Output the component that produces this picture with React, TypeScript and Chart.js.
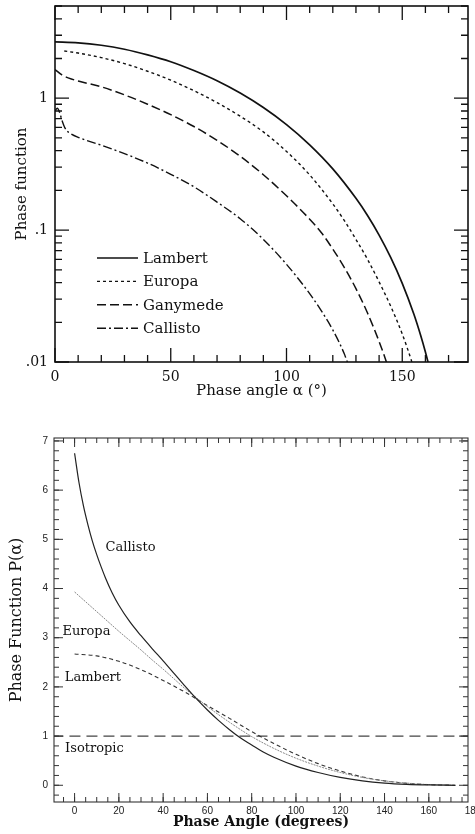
import React, { useEffect, useRef } from 'react';
import { Chart, registerables } from 'chart.js';

Chart.register(...registerables);

// ---------------- Top panel (log scale) ----------------
const TOP_LAMBERT_ANGLE = [0, 10, 20, 30, 40, 50, 60, 70, 80, 90, 100, 110, 120, 130, 135, 140, 145, 150, 155, 158, 160, 162];
const TOP_LAMBERT_PF = [2.67, 2.63, 2.52, 2.35, 2.13, 1.89, 1.62, 1.355, 1.093, 0.849, 0.63, 0.443, 0.291, 0.174, 0.129, 0.0917, 0.0621, 0.0395, 0.0231, 0.0158, 0.0119, 0.0087];

const TOP_EUROPA_ANGLE = [4, 10, 20, 30, 40, 50, 60, 70, 80, 90, 100, 110, 120, 125, 130, 135, 140, 145, 150, 154, 156];
const TOP_EUROPA_PF = [2.28, 2.2, 2.03, 1.83, 1.6, 1.37, 1.14, 0.925, 0.73, 0.555, 0.395, 0.262, 0.158, 0.118, 0.085, 0.06, 0.0405, 0.0265, 0.0163, 0.0102, 0.0078];

const TOP_GANYMEDE_ANGLE = [0, 3, 6, 10, 20, 30, 40, 50, 60, 70, 80, 90, 100, 110, 115, 120, 125, 130, 135, 140, 143.5, 145];
const TOP_GANYMEDE_PF = [1.65, 1.5, 1.42, 1.35, 1.22, 1.06, 0.9, 0.75, 0.61, 0.479, 0.363, 0.263, 0.182, 0.121, 0.096, 0.0718, 0.052, 0.036, 0.0235, 0.0143, 0.0096, 0.0079];

const TOP_CALLISTO_ANGLE = [0, 1, 2, 3, 4, 5, 7, 10, 20, 30, 40, 50, 60, 70, 80, 90, 100, 110, 115, 120, 125, 126, 128];
const TOP_CALLISTO_PF = [0.8, 0.84, 0.78, 0.68, 0.61, 0.57, 0.535, 0.505, 0.44, 0.38, 0.322, 0.265, 0.213, 0.163, 0.122, 0.085, 0.055, 0.033, 0.0245, 0.0175, 0.0115, 0.0103, 0.0085];

const TOP_X_LABELS = [0, 50, 100, 150];
const TOP_Y_LABELS = [0.01, 0.1, 1];
const TOP_Y_LABEL_TEXT = ['.01', '.1', '1'];

// ---------------- Bottom panel (linear scale) ----------------
const BOT_CALLISTO_ANGLE = [0, 2, 4, 6, 8, 10, 12, 14, 17, 20, 25, 30, 35, 40, 45, 50, 55, 60, 65, 70, 75, 80, 85, 90, 100, 110, 120, 130, 140, 150, 160, 172];
const BOT_CALLISTO_PF = [6.75, 6.15, 5.68, 5.3, 4.97, 4.69, 4.44, 4.21, 3.91, 3.66, 3.32, 3.04, 2.78, 2.53, 2.27, 2.01, 1.76, 1.53, 1.32, 1.13, 0.96, 0.82, 0.68, 0.57, 0.39, 0.26, 0.16, 0.09, 0.045, 0.02, 0.007, 0];

const BOT_EUROPA_ANGLE = [0, 5, 10, 15, 20, 25, 30, 35, 40, 45, 50, 55, 60, 70, 80, 90, 100, 110, 120, 130, 140, 150, 160, 172];
const BOT_EUROPA_PF = [3.93, 3.73, 3.53, 3.33, 3.13, 2.94, 2.75, 2.55, 2.36, 2.16, 1.96, 1.78, 1.6, 1.28, 0.99, 0.75, 0.55, 0.39, 0.26, 0.16, 0.09, 0.045, 0.015, 0];

const BOT_LAMBERT_ANGLE = [0, 10, 20, 30, 40, 50, 60, 70, 80, 90, 100, 110, 120, 130, 140, 150, 160, 172];
const BOT_LAMBERT_PF = [2.67, 2.63, 2.52, 2.35, 2.13, 1.89, 1.62, 1.36, 1.09, 0.85, 0.63, 0.44, 0.29, 0.17, 0.09, 0.04, 0.012, 0];

const BOT_ISOTROPIC_ANGLE = [-10, 180];
const BOT_ISOTROPIC_PF = [1, 1];

const BOT_X_LABELS = [0, 20, 40, 60, 80, 100, 120, 140, 160, 180];
const BOT_Y_LABELS = [0, 1, 2, 3, 4, 5, 6, 7];

const BOT_CURVE_NAMES = ['Callisto', 'Europa', 'Lambert', 'Isotropic'];
// label anchor in data coordinates (left edge, vertical centre)
const BOT_NAME_ANGLE = [14, -5.5, -4.4, -4.3];
const BOT_NAME_PF = [4.83, 3.12, 2.18, 0.74];

// ---------------- helpers ----------------
const SERIF = '"DejaVu Serif", serif';
const SANS = '"Liberation Sans", Arial, sans-serif';
const INK = '#111';

function pts(xs: number[], ys: number[]) {
  return xs.map((x, i) => ({ x, y: ys[i] }));
}

function steps(from: number, to: number, step: number) {
  const out: number[] = [];
  for (let v = from; v <= to + 1e-9; v += step) out.push(Math.round(v * 1000) / 1000);
  return out;
}

function logMinors(minExp: number, maxExp: number) {
  const out: number[] = [];
  for (let e = minExp; e <= maxExp; e++) {
    for (let k = 2; k <= 9; k++) out.push(k * Math.pow(10, e));
  }
  return out;
}

type FrameCfg = {
  xMinor: number[]; xMajor: number[]; yMinor: number[]; yMajor: number[];
  minorLen: number; majorLen: number; color: string; lineWidth: number; tickWidth: number;
};

function makeFramePlugin(cfg: FrameCfg) {
  return {
    id: 'frameTicks',
    afterDatasetsDraw(chart: any) {
      const { ctx, chartArea: a, scales } = chart;
      const x = scales.x;
      const y = scales.y;
      ctx.save();
      ctx.strokeStyle = cfg.color;
      ctx.lineWidth = cfg.tickWidth;
      ctx.setLineDash([]);
      ctx.beginPath();
      const hx = (v: number, len: number) => {
        const p = x.getPixelForValue(v);
        if (p < a.left - 0.5 || p > a.right + 0.5) return;
        ctx.moveTo(p, a.bottom); ctx.lineTo(p, a.bottom - len);
        ctx.moveTo(p, a.top); ctx.lineTo(p, a.top + len);
      };
      const vy = (v: number, len: number) => {
        const p = y.getPixelForValue(v);
        if (p < a.top - 0.5 || p > a.bottom + 0.5) return;
        ctx.moveTo(a.left, p); ctx.lineTo(a.left + len, p);
        ctx.moveTo(a.right, p); ctx.lineTo(a.right - len, p);
      };
      cfg.xMinor.forEach((v) => hx(v, cfg.minorLen));
      cfg.xMajor.forEach((v) => hx(v, cfg.majorLen));
      cfg.yMinor.forEach((v) => vy(v, cfg.minorLen));
      cfg.yMajor.forEach((v) => vy(v, cfg.majorLen));
      ctx.stroke();
      ctx.lineWidth = cfg.lineWidth;
      ctx.strokeRect(a.left, a.top, a.right - a.left, a.bottom - a.top);
      ctx.restore();
    },
  };
}

function makeInsetLegend() {
  return {
    id: 'insetLegend',
    afterDatasetsDraw(chart: any) {
      const { ctx, chartArea: a } = chart;
      chart.data.datasets.forEach((ds: any, i: number) => {
        const y = a.bottom - 104 + i * 23.4;
        ctx.save();
        ctx.strokeStyle = ds.borderColor;
        ctx.lineWidth = ds.borderWidth;
        ctx.setLineDash(ds.borderDash || []);
        ctx.beginPath();
        ctx.moveTo(a.left + 42, y);
        ctx.lineTo(a.left + 83, y);
        ctx.stroke();
        ctx.setLineDash([]);
        ctx.fillStyle = INK;
        ctx.font = `15px ${SERIF}`;
        ctx.textBaseline = 'middle';
        ctx.textAlign = 'left';
        ctx.fillText(ds.label, a.left + 88, y + 1);
        ctx.restore();
      });
    },
  };
}

function makeCurveNames() {
  return {
    id: 'curveNames',
    afterDatasetsDraw(chart: any) {
      const { ctx, scales } = chart;
      ctx.save();
      ctx.fillStyle = INK;
      ctx.font = `13px ${SERIF}`;
      ctx.textBaseline = 'middle';
      ctx.textAlign = 'left';
      BOT_CURVE_NAMES.forEach((name, i) => {
        ctx.fillText(name, scales.x.getPixelForValue(BOT_NAME_ANGLE[i]), scales.y.getPixelForValue(BOT_NAME_PF[i]));
      });
      ctx.restore();
    },
  };
}

function lineDs(label: string, xs: number[], ys: number[], color: string, width: number, dash: number[]) {
  return {
    label,
    data: pts(xs, ys),
    borderColor: color,
    borderWidth: width,
    borderDash: dash,
    pointRadius: 0,
    fill: false,
    cubicInterpolationMode: 'monotone' as const,
  };
}

function TopChart() {
  const ref = useRef<HTMLCanvasElement>(null);
  useEffect(() => {
    const chart = new Chart(ref.current!, {
      type: 'line',
      data: {
        datasets: [
          lineDs('Lambert', TOP_LAMBERT_ANGLE, TOP_LAMBERT_PF, '#111', 1.7, []),
          lineDs('Europa', TOP_EUROPA_ANGLE, TOP_EUROPA_PF, '#111', 1.4, [3, 3]),
          lineDs('Ganymede', TOP_GANYMEDE_ANGLE, TOP_GANYMEDE_PF, '#111', 1.5, [9, 4]),
          lineDs('Callisto', TOP_CALLISTO_ANGLE, TOP_CALLISTO_PF, '#111', 1.4, [9, 3, 2, 3]),
        ],
      },
      options: {
        animation: false,
        responsive: false,
        events: [],
        layout: { padding: { top: 6, right: 7, left: 0, bottom: 0 } },
        plugins: { legend: { display: false }, tooltip: { enabled: false } },
        scales: {
          x: {
            type: 'linear',
            min: 0,
            max: 178.4,
            afterBuildTicks: (s: any) => { s.ticks = TOP_X_LABELS.map((v) => ({ value: v })); },
            afterFit: (s: any) => { s.height = 48; s.paddingLeft = 0; s.paddingRight = 0; },
            grid: { display: false, drawTicks: false },
            border: { display: false },
            ticks: { autoSkip: false, maxRotation: 0, padding: 7, color: INK, font: { family: SERIF, size: 14 } },
            title: { display: true, text: 'Phase angle α (°)', color: INK, font: { family: SERIF, size: 15 }, padding: { top: 0, bottom: 10 } },
          },
          y: {
            type: 'logarithmic',
            min: 0.01,
            max: 5,
            afterBuildTicks: (s: any) => { s.ticks = TOP_Y_LABELS.map((v) => ({ value: v })); },
            afterFit: (s: any) => { s.width = 55; s.paddingTop = 0; s.paddingBottom = 0; },
            grid: { display: false, drawTicks: false },
            border: { display: false },
            ticks: {
              autoSkip: false,
              padding: 7,
              color: INK,
              font: { family: SERIF, size: 14 },
              callback: (_v: any, i: number) => TOP_Y_LABEL_TEXT[i],
            },
            title: { display: true, text: 'Phase function', color: INK, font: { family: SERIF, size: 15 }, padding: { top: 13, bottom: 0 } },
          },
        },
      },
      plugins: [
        makeFramePlugin({
          xMinor: steps(0, 170, 10),
          xMajor: steps(0, 150, 50),
          yMinor: logMinors(-2, 0),
          yMajor: [0.01, 0.1, 1],
          minorLen: 7,
          majorLen: 14,
          color: '#111',
          lineWidth: 1.6,
          tickWidth: 1.3,
        }),
        makeInsetLegend(),
      ],
    } as any);
    return () => chart.destroy();
  }, []);
  return <canvas ref={ref} width={475} height={410} style={{ position: 'absolute', left: 0, top: 0, width: 475, height: 410 }} />;
}

function BottomChart() {
  const ref = useRef<HTMLCanvasElement>(null);
  useEffect(() => {
    const chart = new Chart(ref.current!, {
      type: 'line',
      data: {
        datasets: [
          lineDs('Callisto', BOT_CALLISTO_ANGLE, BOT_CALLISTO_PF, '#222', 1.2, []),
          lineDs('Europa', BOT_EUROPA_ANGLE, BOT_EUROPA_PF, '#888', 1, [2, 1]),
          lineDs('Lambert', BOT_LAMBERT_ANGLE, BOT_LAMBERT_PF, '#333', 1.1, [4, 3]),
          lineDs('Isotropic', BOT_ISOTROPIC_ANGLE, BOT_ISOTROPIC_PF, '#444', 1.2, [11, 6]),
        ],
      },
      options: {
        animation: false,
        responsive: false,
        events: [],
        layout: { padding: { top: 28, right: 7, left: 0, bottom: 0 } },
        plugins: { legend: { display: false }, tooltip: { enabled: false } },
        scales: {
          x: {
            type: 'linear',
            min: -9.3,
            max: 177.7,
            afterBuildTicks: (s: any) => { s.ticks = BOT_X_LABELS.map((v) => ({ value: v })); },
            afterFit: (s: any) => { s.height = 32; s.paddingLeft = 0; s.paddingRight = 0; },
            grid: { display: false, drawTicks: false },
            border: { display: false },
            ticks: { autoSkip: false, maxRotation: 0, padding: 3, color: '#222', font: { family: SANS, size: 10 } },
            title: { display: true, text: 'Phase Angle (degrees)', color: INK, font: { family: SERIF, size: 14, weight: 'bold' }, padding: { top: 0, bottom: 3 } },
          },
          y: {
            type: 'linear',
            min: -0.34,
            max: 7.06,
            afterBuildTicks: (s: any) => { s.ticks = BOT_Y_LABELS.map((v) => ({ value: v })); },
            afterFit: (s: any) => { s.width = 54; s.paddingTop = 0; s.paddingBottom = 0; },
            grid: { display: false, drawTicks: false },
            border: { display: false },
            ticks: { autoSkip: false, padding: 6, color: '#222', font: { family: SANS, size: 10 } },
            title: { display: true, text: 'Phase Function P(α)', color: INK, font: { family: SERIF, size: 16 }, padding: { top: 7, bottom: 0 } },
          },
        },
      },
      plugins: [
        makeFramePlugin({
          xMinor: steps(-5, 175, 5),
          xMajor: steps(0, 160, 20),
          yMinor: steps(-0.2, 7, 0.2),
          yMajor: steps(0, 7, 1),
          minorLen: 5,
          majorLen: 9,
          color: '#333',
          lineWidth: 1.1,
          tickWidth: 1,
        }),
        makeCurveNames(),
      ],
    } as any);
    return () => chart.destroy();
  }, []);
  return <canvas ref={ref} width={475} height={424} style={{ position: 'absolute', left: 0, top: 410, width: 475, height: 424 }} />;
}

export default function App() {
  return (
    <div style={{ position: 'absolute', left: 0, top: 0, width: 475, height: 834, background: '#fff', overflow: 'hidden' }}>
      <TopChart />
      <BottomChart />
    </div>
  );
}
